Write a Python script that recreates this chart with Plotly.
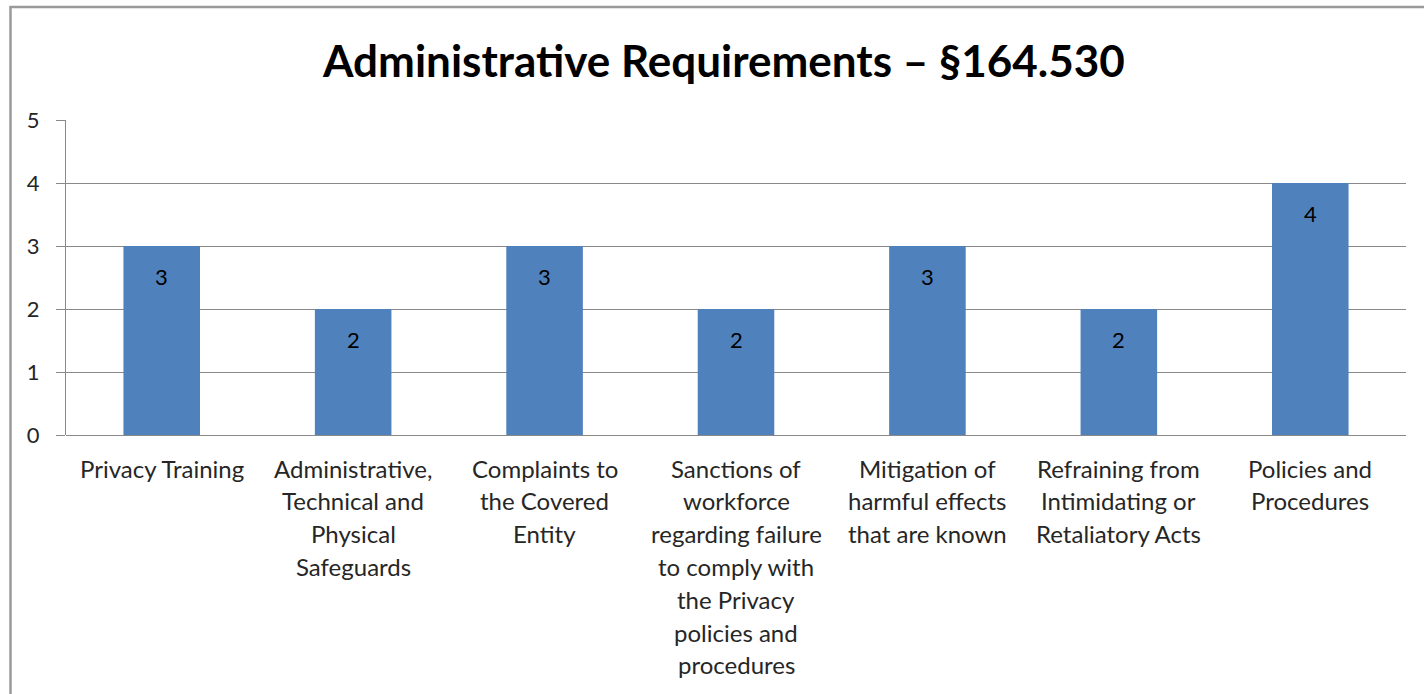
import plotly.graph_objects as go

# Chart data
categories = [
    "Privacy Training",
    "Administrative, Technical and Physical Safeguards",
    "Complaints to the Covered Entity",
    "Sanctions of workforce regarding failure to comply with the Privacy policies and procedures",
    "Mitigation of harmful effects that are known",
    "Refraining from Intimidating or Retaliatory Acts",
    "Policies and Procedures",
]
label_lines = [
    ["Privacy Training"],
    ["Administrative,", "Technical and", "Physical", "Safeguards"],
    ["Complaints to", "the Covered", "Entity"],
    ["Sanctions of", "workforce", "regarding failure", "to comply with", "the Privacy", "policies and", "procedures"],
    ["Mitigation of", "harmful effects", "that are known"],
    ["Refraining from", "Intimidating or", "Retaliatory Acts"],
    ["Policies and", "Procedures"],
]
values = [3, 2, 3, 2, 3, 2, 4]
y_ticks = [0, 1, 2, 3, 4, 5]

title_text = "Administrative Requirements – §164.530"

W, H = 1424, 694
M_L, M_R, M_T, M_B = 66, 18, 120, 259
PW = W - M_L - M_R
PH = H - M_T - M_B

FONT = "Lato, Carlito, Calibri, sans-serif"
BAR = "#4F81BD"
GRID = "#898989"
TXT = "#262626"


def px_to_paper_x(px):
    return (px - M_L) / PW


def px_to_paper_y(py):
    return (H - M_B - py) / PH


fig = go.Figure(
    go.Bar(
        x=categories,
        y=values,
        marker=dict(color=BAR, line=dict(width=0)),
        hoverinfo="x+y",
    )
)

annotations = []
# value labels inside each bar, near its top
for cat, v in zip(categories, values):
    annotations.append(dict(
        x=cat, y=v, xref="x", yref="y", text=str(v), showarrow=False,
        yanchor="middle", yshift=-30, font=dict(family=FONT, size=22, color="#000000"),
    ))
# multi-line category labels under the axis
for cat, lines in zip(categories, label_lines):
    for i, line in enumerate(lines):
        annotations.append(dict(
            x=cat, y=0, xref="x", yref="paper", text=line, showarrow=False,
            yanchor="middle", yshift=-33 - 32.8 * i,
            font=dict(family=FONT, size=24, color=TXT),
        ))
# title
annotations.append(dict(
    x=px_to_paper_x(723), y=px_to_paper_y(60), xref="paper", yref="paper",
    text="<b>" + title_text + "</b>", showarrow=False, xanchor="center", yanchor="middle",
    font=dict(family=FONT, size=44, color="#000000"),
))

# outer chart frame (left and top edges)
frame = [
    dict(type="line", xref="paper", yref="paper",
         x0=px_to_paper_x(10.5), x1=px_to_paper_x(10.5), y0=px_to_paper_y(6.5), y1=px_to_paper_y(H + 5),
         line=dict(color="#9a9a9a", width=2.5)),
    dict(type="line", xref="paper", yref="paper",
         x0=px_to_paper_x(9.5), x1=px_to_paper_x(W + 5), y0=px_to_paper_y(7), y1=px_to_paper_y(7),
         line=dict(color="#9a9a9a", width=2.5)),
]

fig.update_layout(
    width=W, height=H,
    margin=dict(l=M_L, r=M_R, t=M_T, b=M_B, pad=0),
    paper_bgcolor="white", plot_bgcolor="white",
    bargap=0.6,
    showlegend=False,
    annotations=annotations,
    shapes=frame,
    font=dict(family=FONT, color=TXT),
)
fig.update_xaxes(
    showticklabels=False, showgrid=False, showline=False, zeroline=False, ticks="",
)
fig.update_yaxes(
    range=[0, 5], tickvals=y_ticks, showgrid=True, gridcolor=GRID, gridwidth=1,
    zeroline=True, zerolinecolor=GRID, zerolinewidth=1,
    showline=True, linecolor=GRID, linewidth=1,
    ticks="outside", ticklen=9, tickcolor=GRID, tickwidth=1,
    ticklabelstandoff=12,
    tickfont=dict(family=FONT, size=22, color=TXT),
)

fig.write_html("out.html")
